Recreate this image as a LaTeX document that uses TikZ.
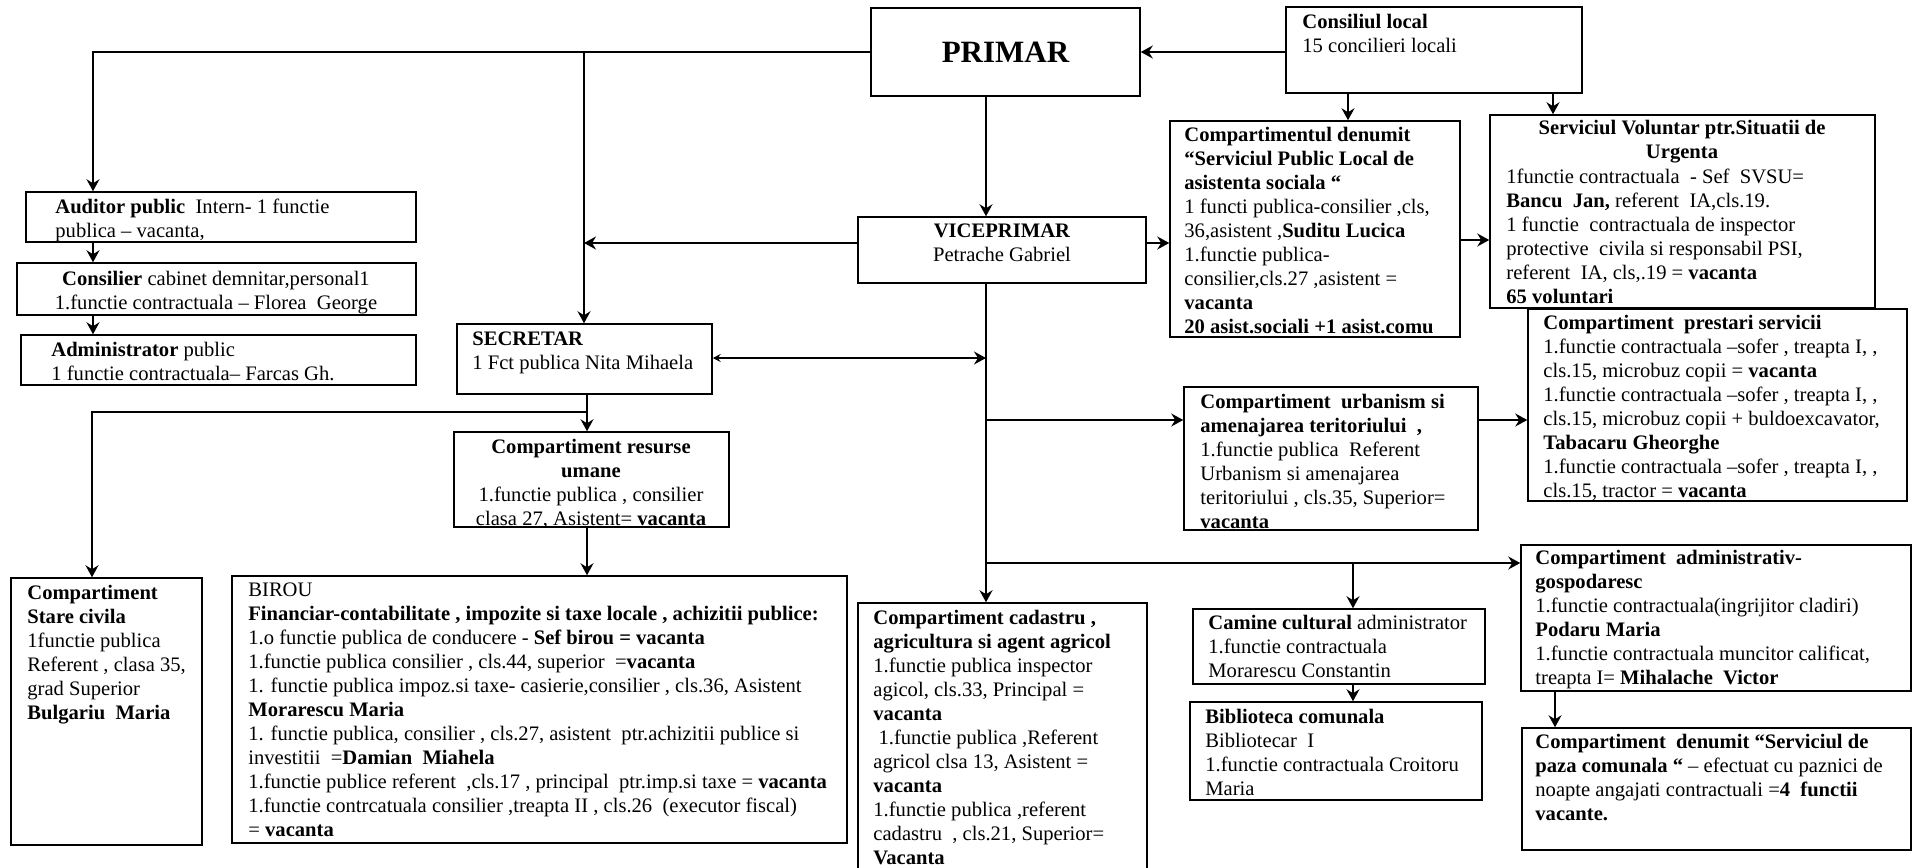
\documentclass[tikz,border=0pt]{standalone}
\usepackage{fontspec}
\setmainfont{Liberation Serif}
\usetikzlibrary{fit,arrows.meta}
\newcommand\myfs{\fontsize{10.3}{12}\selectfont}
\begin{document}
\begin{tikzpicture}[x=0.5pt,y=-0.5pt,
  box/.style={draw,line width=0.75pt,inner sep=0pt},
  txt/.style={inner sep=0pt,align=left,anchor=north west,font=\myfs},
  ctxt/.style={inner sep=0pt,align=center,anchor=north,font=\myfs},
  wire/.style={line width=0.8pt},
  conn/.style={wire,-{Stealth[length=6pt,width=6.5pt,inset=2pt]}},
  dconn/.style={wire,{Stealth[length=4pt,width=4pt,inset=1.5pt]}-{Stealth[length=6pt,width=6.5pt,inset=2pt]}}
]
\fill[white] (0,0) rectangle (1915,867);
\useasboundingbox (0,0) rectangle (1915,867);

% boxes
\node[box,fit={(871,8)(1140,96)}] (prim) {};
\node[box,fit={(1286,7)(1582,93)}] (cl) {};
\node[box,fit={(858,217)(1146,283)}] (vice) {};
\node[box,fit={(1170,121)(1460,337)}] (soc) {};
\node[box,fit={(1490,115)(1875,308)}] (svsu) {};
\node[box,fit={(26,192)(416,242)}] (aud) {};
\node[box,fit={(17,263)(416,315)}] (cab) {};
\node[box,fit={(21,335)(416,385)}] (adp) {};
\node[box,fit={(457,324)(712,394)}] (sec) {};
\node[box,fit={(454,432)(729,527)}] (res) {};
\node[box,fit={(1528,309)(1907,501)}] (pre) {};
\node[box,fit={(1184,387)(1478,530)}] (urb) {};
\node[box,fit={(11,578)(202,845)}] (sc) {};
\node[box,fit={(232,576)(847,843)}] (bir) {};
\node[box,fit={(858,603)(1147,872)}] (cad) {};
\node[box,fit={(1193,609)(1485,684)}] (cam) {};
\node[box,fit={(1190,702)(1482,800)}] (bib) {};
\node[box,fit={(1521,545)(1911,691)}] (adm) {};
\node[box,fit={(1522,728)(1911,850)}] (paz) {};

% texts
\node[inner sep=0pt,font=\fontsize{15.5}{18}\selectfont\bfseries] (prim-t) at (prim.center) {PRIMAR};
\node[txt] (cl-t) at (1302,11) {\strut\textbf{Consiliul local}\\15 concilieri locali};
\node[inner sep=0pt,align=center,font=\myfs] (vice-t) at (1002,243) {\textbf{VICEPRIMAR}\\Petrache Gabriel};
\node[txt] (soc-t) at (1184,124) {\strut\textbf{Compartimentul denumit}\\ \textbf{“Serviciul Public Local de}\\ \textbf{asistenta sociala “}\\ 1 functi publica-consilier ,cls,\\ 36,asistent ,\textbf{Suditu Lucica}\\ 1.functie publica-\\ consilier,cls.27 ,asistent =\\ \textbf{vacanta}\\ \textbf{20 asist.sociali +1 asist.comu}};
\node[ctxt] (svsu-h) at (1682,117) {\strut\textbf{Serviciul Voluntar ptr.Situatii de}\\ \textbf{Urgenta}};
\node[txt] (svsu-t) at (1506,166) {\strut 1functie contractuala ~- Sef ~SVSU=\\ \textbf{Bancu ~Jan,} referent ~IA,cls.19.\\ 1 functie ~contractuala de inspector\\ protective ~civila si responsabil PSI,\\ referent ~IA, cls,.19 = \textbf{vacanta}\\ \textbf{65 voluntari}};
\node[txt] (aud-t) at (55,196) {\strut\textbf{Auditor public} ~Intern- 1 functie\\ publica – vacanta,};
\node[ctxt] (cab-t) at (216,268) {\strut\textbf{Consilier} cabinet demnitar,personal1\\ 1.functie contractuala – Florea ~George};
\node[txt] (adp-t) at (51,339) {\strut\textbf{Administrator} public\\ 1 functie contractuala– Farcas Gh.};
\node[txt] (sec-t) at (472,328) {\strut\textbf{SECRETAR}\\ 1 Fct publica Nita Mihaela};
\node[ctxt] (res-t) at (591,436) {\strut\textbf{Compartiment resurse}\\ \textbf{umane}\\ 1.functie publica , consilier\\ clasa 27, Asistent= \textbf{vacanta}};
\node[txt] (urb-t) at (1200,391) {\strut\textbf{Compartiment ~urbanism si}\\ \textbf{amenajarea teritoriului ~,}\\ 1.functie publica ~Referent\\ Urbanism si amenajarea\\ teritoriului , cls.35, Superior=\\ \textbf{vacanta}};
\node[txt] (pre-t) at (1543,312) {\strut\textbf{Compartiment ~prestari servicii}\\ 1.functie contractuala –sofer , treapta I, ,\\ cls.15, microbuz copii = \textbf{vacanta}\\ 1.functie contractuala –sofer , treapta I, ,\\ cls.15, microbuz copii + buldoexcavator,\\ \textbf{Tabacaru Gheorghe}\\ 1.functie contractuala –sofer , treapta I, ,\\ cls.15, tractor = \textbf{vacanta}};
\node[txt] (sc-t) at (27,582) {\strut\textbf{Compartiment}\\ \textbf{Stare civila}\\ 1functie publica\\ Referent , clasa 35,\\ grad Superior\\ \textbf{Bulgariu ~Maria}};
\node[txt] (bir-t) at (248,579) {\strut BIROU\\ \textbf{Financiar-contabilitate , impozite si taxe locale , achizitii publice:}\\ 1.o functie publica de conducere - \textbf{Sef birou = vacanta}\\ 1.functie publica consilier , cls.44, superior ~=\textbf{vacanta}\\ 1. functie publica impoz.si taxe- casierie,consilier , cls.36, Asistent\\ \textbf{Morarescu Maria}\\ 1. functie publica, consilier , cls.27, asistent ~ptr.achizitii publice si\\ investitii ~=\textbf{Damian ~Miahela}\\ 1.functie publice referent ~,cls.17 , principal ~ptr.imp.si taxe = \textbf{vacanta}\\ 1.functie contrcatuala consilier ,treapta II , cls.26 ~(executor fiscal)\\ = \textbf{vacanta}};
\node[txt] (cad-t) at (873,607) {\strut\textbf{Compartiment cadastru ,}\\ \textbf{agricultura si agent agricol}\\ 1.functie publica inspector\\ agicol, cls.33, Principal =\\ \textbf{vacanta}\\ ~1.functie publica ,Referent\\ agricol clsa 13, Asistent =\\ \textbf{vacanta}\\ 1.functie publica ,referent\\ cadastru ~, cls.21, Superior=\\ \textbf{Vacanta}};
\node[txt] (cam-t) at (1208,612) {\strut\textbf{Camine cultural} administrator\\ 1.functie contractuala\\ Morarescu Constantin};
\node[txt] (bib-t) at (1205,706) {\strut\textbf{Biblioteca comunala}\\ Bibliotecar ~I\\ 1.functie contractuala Croitoru\\ Maria};
\node[txt] (adm-t) at (1535,547) {\strut\textbf{Compartiment ~administrativ-}\\ \textbf{gospodaresc}\\ 1.functie contractuala(ingrijitor cladiri)\\ \textbf{Podaru Maria}\\ 1.functie contractuala muncitor calificat,\\ treapta I= \textbf{Mihalache ~Victor}};
\node[txt] (paz-t) at (1535,731) {\strut\textbf{Compartiment ~denumit “Serviciul de}\\ \textbf{paza comunala “} – efectuat cu paznici de\\ noapte angajati contractuali =\textbf{4 ~functii}\\ \textbf{vacante.}};

% helper coordinates
\coordinate (xA) at (93,0);
\coordinate (xS) at (584,0);
\coordinate (xV) at (986,0);
\coordinate (xR) at (587,0);
\coordinate (xC) at (1353,0);
\coordinate (xP) at (1555,0);
\coordinate (xK1) at (1348,0);
\coordinate (xK2) at (1553,0);
\coordinate (xT) at (92,0);
\coordinate (y52) at (0,52);
\coordinate (y243) at (0,243);
\coordinate (y240) at (0,240);
\coordinate (y358) at (0,358);
\coordinate (y420) at (0,420);
\coordinate (y563) at (0,563);
\coordinate (y412) at (0,412);

% connectors
\draw[conn] (prim.west |- y52) -| (aud.north -| xA);
\draw[conn] (xS |- y52) -- (sec.north -| xS);
\draw[conn] (vice.west |- y243) -- (xS |- y243);
\draw[conn] (cl.west |- y52) -- (prim.east |- y52);
\draw[conn] (prim.south -| xV) -- (vice.north -| xV);
\draw[conn] (cl.south -| xK1) -- (soc.north -| xK1);
\draw[conn] (cl.south -| xK2) -- (svsu.north -| xK2);
\draw[conn] (vice.east |- y243) -- (soc.west |- y243);
\draw[conn] (soc.east |- y240) -- (svsu.west |- y240);
\draw[conn] (aud.south -| xA) -- (cab.north -| xA);
\draw[conn] (cab.south -| xA) -- (adp.north -| xA);
\draw[conn] (vice.south -| xV) -- (cad.north -| xV);
\draw[dconn] (sec.east |- y358) -- (xV |- y358);
\draw[conn] (xV |- y420) -- (urb.west |- y420);
\draw[conn] (urb.east |- y420) -- (pre.west |- y420);
\draw[conn] (xV |- y563) -- (adm.west |- y563);
\draw[conn] (xC |- y563) -- (cam.north -| xC);
\draw[conn] (cam.south -| xC) -- (bib.north -| xC);
\draw[conn] (adm.south -| xP) -- (paz.north -| xP);
\draw[conn] (sec.south -| xR) -- (res.north -| xR);
\draw[conn] (xR |- y412) -| (sc.north -| xT);
\draw[conn] (res.south -| xR) -- (bir.north -| xR);
\end{tikzpicture}
\end{document}
